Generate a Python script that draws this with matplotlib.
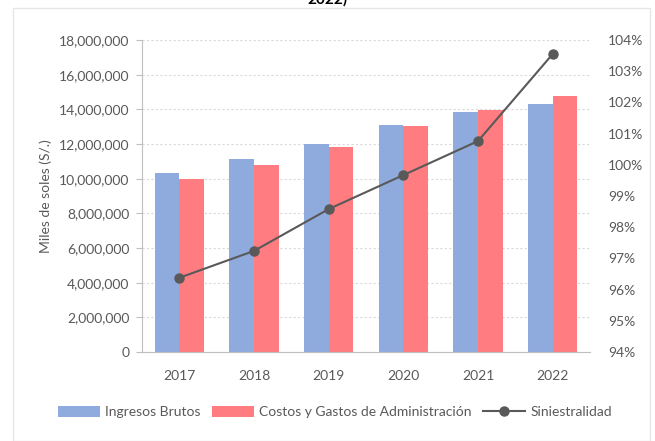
import numpy as np
import matplotlib.pyplot as plt
from matplotlib.ticker import FuncFormatter
from matplotlib.patches import Rectangle

# datos
anios = ['2017', '2018', '2019', '2020', '2021', '2022']
ingresos = [10340000, 11130000, 12000000, 13100000, 13860000, 14310000]
costos = [9980000, 10790000, 11850000, 13040000, 13960000, 14770000]
siniestralidad = [96.38, 97.24, 98.58, 99.67, 100.76, 103.55]

plt.rcParams['font.family'] = ['Lato', 'DejaVu Sans']
gris = '#595959'

fig = plt.figure(figsize=(6.55, 4.41), dpi=100)
# marco exterior del grafico
fig.patches.append(Rectangle((13 / 655, 0), (650 - 13) / 655, 1 - 8 / 441,
                             transform=fig.transFigure, fill=False,
                             edgecolor='#e6e6e6', linewidth=1.0))
fig.text(0.5, 1 + 1 / 441, '2022)', ha='center', va='center',
         fontsize=11, fontweight='bold', color='black')

ax = fig.add_axes([142 / 655, 1 - 352 / 441, (590 - 142) / 655, (352 - 40) / 441])
x = np.arange(len(anios))
w = 0.33
ax.bar(x - w / 2, ingresos, w, color='#8FAADC', label='Ingresos Brutos', zorder=2)
ax.bar(x + w / 2, costos, w, color='#FF7C80',
       label='Costos y Gastos de Administración', zorder=2)
ax.set_xlim(-0.5, len(anios) - 0.5)
ax.set_ylim(0, 18000000)
ax.set_yticks(np.arange(0, 18000001, 2000000))
ax.yaxis.set_major_formatter(FuncFormatter(lambda v, p: f'{v:,.0f}'))
ax.set_xticks(x)
ax.set_xticklabels(anios)
ax.grid(axis='y', linestyle=(0, (2, 2)), color='#d9d9d9', linewidth=0.8, zorder=0)
ax.set_axisbelow(True)
for s in ['top', 'right']:
    ax.spines[s].set_visible(False)
ax.spines['left'].set_color('#bfbfbf')
ax.spines['bottom'].set_color('#bfbfbf')
ax.tick_params(axis='y', colors='#bfbfbf', labelcolor=gris, labelsize=10, length=4,
               direction='out', pad=5)
ax.tick_params(axis='x', length=0, labelcolor=gris, labelsize=10, pad=13)
ax.set_ylabel('Miles de soles (S/.)', color=gris, fontsize=10, labelpad=5)

ax2 = ax.twinx()
ax2.plot(x, siniestralidad, color=gris, marker='o', markersize=6.5,
         linewidth=1.5, label='Siniestralidad', zorder=3)
ax2.set_ylim(94, 104)
ax2.set_yticks(np.arange(94, 105, 1))
ax2.yaxis.set_major_formatter(FuncFormatter(lambda v, p: f'{v:.0f}%'))
for s in ['top', 'right', 'left', 'bottom']:
    ax2.spines[s].set_visible(False)
ax2.tick_params(axis='y', length=0, labelcolor=gris, labelsize=10, pad=13)

h1, l1 = ax.get_legend_handles_labels()
h2, l2 = ax2.get_legend_handles_labels()
fig.legend(h1 + h2, l1 + l2, loc='center', bbox_to_anchor=(335 / 655, 1 - 412 / 441),
           ncol=3, frameon=False, fontsize=10, handlelength=3.0, handleheight=0.8,
           columnspacing=0.8, handletextpad=0.4, labelcolor=gris)

fig.savefig('out.png', dpi=100)
